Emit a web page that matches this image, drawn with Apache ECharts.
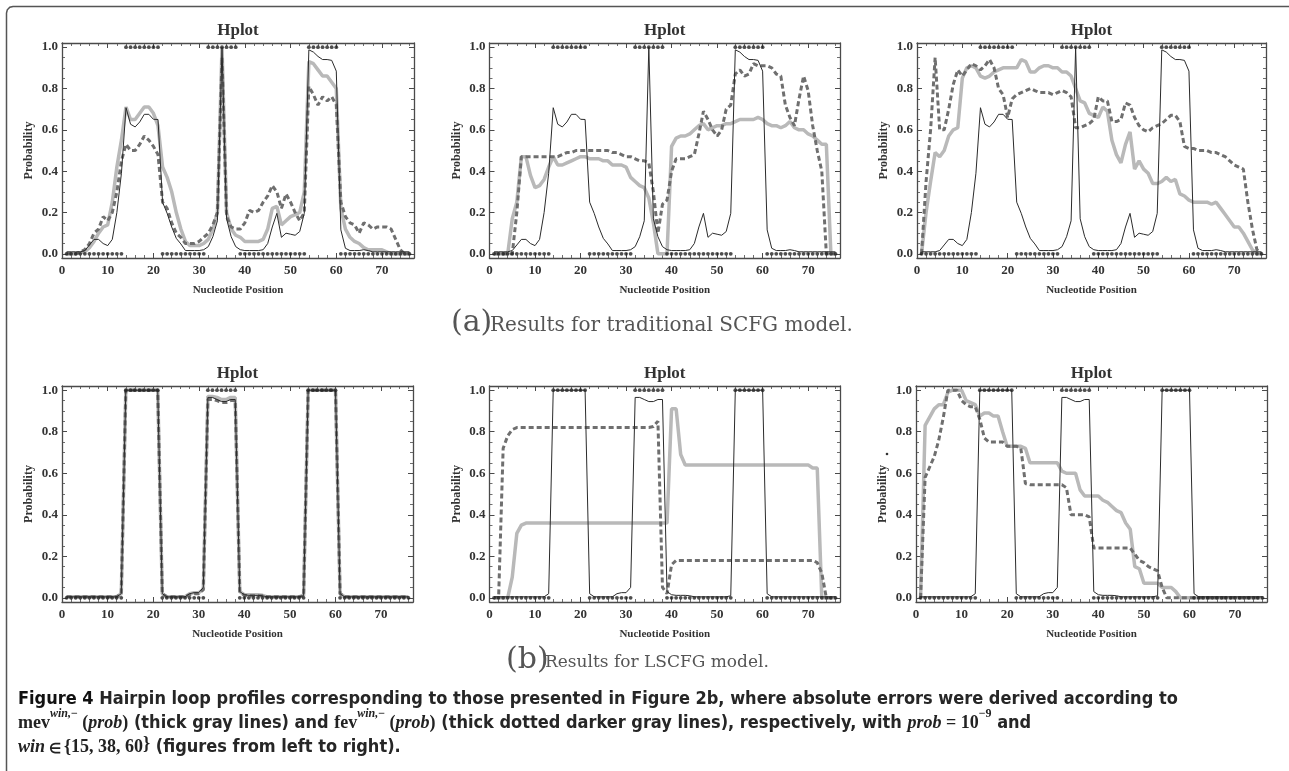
<!DOCTYPE html>
<html>
<head>
<meta charset="utf-8">
<script src="https://cdn.jsdelivr.net/npm/echarts@6/dist/echarts.min.js"></script>
<style>
html,body{margin:0;padding:0;background:#fff;}
#c{width:1289px;height:771px;}
</style>
</head>
<body>
<div id="c"></div>
<script>
// ---------------- DATA ----------------
const positions = [1,2,3,4,5,6,7,8,9,10,11,12,13,14,15,16,17,18,19,20,21,22,23,24,25,26,27,28,29,30,31,32,33,34,35,36,37,38,39,40,41,42,43,44,45,46,47,48,49,50,51,52,53,54,55,56,57,58,59,60,61,62,63,64,65,66,67,68,69,70,71,72,73,74,75,76];
// reference structure (dots at 0 / 1)
const structure = [0,0,0,0,0,0,0,0,0,0,0,0,0, 1,1,1,1,1,1,1,1, 0,0,0,0,0,0,0,0,0,0, 1,1,1,1,1,1,1, 0,0,0,0,0,0,0,0,0,0,0,0,0,0,0, 1,1,1,1,1,1,1, 0,0,0,0,0,0,0,0,0,0,0,0,0,0,0,0];

// (a) traditional SCFG: thin black profile
const scfgProfile = [0.01,0.01,0.01,0.01,0.016,0.043,0.07,0.07,0.05,0.04,
  0.07,0.2,0.39,0.707,0.627,0.614,0.638,0.675,0.675,0.651,
  0.65,0.25,0.196,0.13,0.075,0.048,0.016,0.016,0.016,0.016,
  0.02,0.035,0.083,0.16,1.0,0.17,0.083,0.035,0.02,0.016,
  0.016,0.016,0.016,0.02,0.05,0.13,0.196,0.08,0.1,0.095,
  0.09,0.108,0.196,0.987,0.976,0.955,0.94,0.94,0.936,0.884,
  0.116,0.027,0.016,0.016,0.016,0.02,0.016,0.01,0.01,0.01,
  0.01,0.01,0.01,0.01,0.01,0.01];
// win = 15
const scfgMev15 = [0,0,0,0.005,0.01,0.03,0.06,0.1,0.13,0.14,
  0.25,0.42,0.55,0.71,0.65,0.65,0.68,0.71,0.71,0.68,
  0.62,0.42,0.37,0.3,0.2,0.12,0.06,0.04,0.04,0.04,
  0.05,0.07,0.12,0.2,1.0,0.2,0.12,0.09,0.08,0.06,
  0.06,0.06,0.06,0.07,0.12,0.22,0.23,0.14,0.16,0.18,
  0.19,0.2,0.3,0.93,0.92,0.89,0.86,0.86,0.83,0.8,
  0.22,0.12,0.08,0.06,0.05,0.03,0.02,0.02,0.02,0.02,
  0.01,0,0,0,0,0];
const scfgFev15 = [0,0,0,0.01,0.02,0.05,0.1,0.12,0.18,0.16,
  0.2,0.3,0.45,0.53,0.5,0.5,0.53,0.57,0.55,0.52,
  0.48,0.25,0.22,0.15,0.1,0.08,0.05,0.05,0.05,0.06,
  0.08,0.1,0.14,0.2,0.95,0.18,0.13,0.12,0.12,0.15,
  0.21,0.2,0.21,0.25,0.28,0.33,0.3,0.22,0.29,0.25,
  0.2,0.16,0.2,0.81,0.77,0.72,0.76,0.74,0.76,0.72,
  0.25,0.18,0.15,0.14,0.1,0.15,0.14,0.12,0.13,0.13,
  0.13,0.12,0.07,0.02,0,0];
// win = 38
const scfgMev38 = [0,0,0,0,0.17,0.25,0.47,0.47,0.38,0.32,
  0.33,0.36,0.42,0.47,0.43,0.43,0.44,0.45,0.46,0.47,
  0.47,0.46,0.46,0.46,0.45,0.45,0.43,0.43,0.43,0.42,
  0.37,0.35,0.33,0.32,0.27,0.15,0,0,0,0.52,
  0.56,0.57,0.57,0.58,0.6,0.62,0.63,0.6,0.61,0.62,
  0.62,0.63,0.63,0.64,0.65,0.65,0.65,0.65,0.66,0.65,
  0.63,0.62,0.62,0.61,0.62,0.64,0.61,0.6,0.6,0.58,
  0.57,0.55,0.53,0.53,0,0];
const scfgFev38 = [0,0,0,0,0,0.2,0.47,0.47,0.47,0.47,
  0.47,0.47,0.47,0.47,0.47,0.48,0.49,0.49,0.5,0.5,
  0.5,0.5,0.5,0.5,0.5,0.5,0.49,0.49,0.48,0.47,
  0.47,0.46,0.45,0.45,0.44,0.3,0.1,0.24,0.26,0.4,
  0.46,0.46,0.46,0.47,0.48,0.58,0.69,0.65,0.6,0.57,
  0.6,0.7,0.72,0.87,0.89,0.86,0.87,0.92,0.91,0.91,
  0.91,0.9,0.87,0.86,0.72,0.66,0.62,0.75,0.86,0.79,
  0.62,0.5,0.4,0,0,0];
// win = 60
const scfgMev60 = [0,0.2,0.35,0.49,0.47,0.5,0.57,0.6,0.61,0.85,
  0.9,0.91,0.9,0.86,0.85,0.86,0.88,0.89,0.9,0.9,
  0.9,0.9,0.94,0.93,0.88,0.88,0.9,0.91,0.91,0.9,
  0.9,0.88,0.88,0.86,0.8,0.74,0.73,0.68,0.67,0.66,
  0.71,0.69,0.55,0.48,0.44,0.53,0.59,0.41,0.45,0.41,
  0.39,0.34,0.34,0.35,0.37,0.35,0.36,0.29,0.28,0.26,
  0.25,0.25,0.25,0.25,0.24,0.25,0.22,0.19,0.16,0.13,
  0.13,0.1,0.06,0.02,0,0];
const scfgFev60 = [0,0.35,0.6,0.95,0.6,0.6,0.7,0.82,0.89,0.86,
  0.89,0.92,0.91,0.89,0.91,0.94,0.9,0.8,0.77,0.66,
  0.75,0.77,0.78,0.79,0.8,0.79,0.78,0.78,0.78,0.77,
  0.78,0.79,0.78,0.76,0.61,0.61,0.62,0.63,0.65,0.76,
  0.74,0.74,0.64,0.64,0.65,0.73,0.72,0.66,0.62,0.6,
  0.59,0.61,0.62,0.63,0.65,0.67,0.67,0.64,0.52,0.51,
  0.51,0.5,0.5,0.5,0.49,0.49,0.48,0.47,0.45,0.43,
  0.42,0.41,0.25,0.12,0.02,0];

// (b) LSCFG: thin black profile
const lscfgProfile = [0.005,0.005,0.005,0.005,0.005,0.005,0.005,0.005,0.005,0.005,
  0.005,0.005,0.02,1,1,1,1,1,1,1,
  1,0.02,0.005,0.005,0.005,0.005,0.005,0.02,0.025,0.025,
  0.05,0.965,0.965,0.955,0.945,0.945,0.955,0.955,0.03,0.015,
  0.012,0.012,0.012,0.01,0.005,0.005,0.005,0.005,0.005,0.005,
  0.005,0.005,0.01,1,1,1,1,1,1,1,
  0.02,0.005,0.005,0.005,0.005,0.005,0.005,0.005,0.005,0.005,
  0.005,0.005,0.005,0.005,0.005,0.005];
// win = 15
const lscfgMev15 = [0.005,0.005,0.005,0.005,0.005,0.005,0.005,0.005,0.005,0.005,
  0.005,0.005,0.02,1,1,1,1,1,1,1,
  1,0.02,0.005,0.005,0.005,0.005,0.005,0.02,0.025,0.025,
  0.04,0.97,0.97,0.965,0.955,0.955,0.965,0.965,0.03,0.015,
  0.015,0.015,0.015,0.012,0.005,0.005,0.005,0.005,0.005,0.005,
  0.005,0.005,0.01,1,1,1,1,1,1,1,
  0.02,0.005,0.005,0.005,0.005,0.005,0.005,0.005,0.005,0.005,
  0.005,0.005,0.005,0.005,0.005,0.005];
const lscfgFev15 = [0.005,0.005,0.005,0.005,0.005,0.005,0.005,0.005,0.005,0.005,
  0.005,0.005,0.02,1,1,1,1,1,1,1,
  1,0.02,0.005,0.005,0.005,0.005,0.005,0.015,0.02,0.02,
  0.04,0.955,0.955,0.95,0.94,0.94,0.95,0.95,0.03,0.012,
  0.01,0.01,0.01,0.01,0.005,0.005,0.005,0.005,0.005,0.005,
  0.005,0.005,0.01,1,1,1,1,1,1,1,
  0.02,0.005,0.005,0.005,0.005,0.005,0.005,0.005,0.005,0.005,
  0.005,0.005,0.005,0.005,0.005,0.005];
// win = 38
const lscfgMev38 = [0,0,0,0,0.1,0.31,0.35,0.36,0.36,0.36,
  0.36,0.36,0.36,0.36,0.36,0.36,0.36,0.36,0.36,0.36,
  0.36,0.36,0.36,0.36,0.36,0.36,0.36,0.36,0.36,0.36,
  0.36,0.36,0.36,0.36,0.36,0.36,0.36,0.36,0.36,0.91,
  0.91,0.69,0.64,0.64,0.64,0.64,0.64,0.64,0.64,0.64,
  0.64,0.64,0.64,0.64,0.64,0.64,0.64,0.64,0.64,0.64,
  0.64,0.64,0.64,0.64,0.64,0.64,0.64,0.64,0.64,0.64,
  0.625,0.625,0,0,0,0];
const lscfgFev38 = [0,0,0.72,0.78,0.81,0.82,0.82,0.82,0.82,0.82,
  0.82,0.82,0.82,0.82,0.82,0.82,0.82,0.82,0.82,0.82,
  0.82,0.82,0.82,0.82,0.82,0.82,0.82,0.82,0.82,0.82,
  0.82,0.82,0.82,0.82,0.82,0.825,0.85,0.05,0.02,0.16,
  0.18,0.18,0.18,0.18,0.18,0.18,0.18,0.18,0.18,0.18,
  0.18,0.18,0.18,0.18,0.18,0.18,0.18,0.18,0.18,0.18,
  0.18,0.18,0.18,0.18,0.18,0.18,0.18,0.18,0.18,0.18,
  0.18,0.17,0.12,0,0,0];
// win = 60
const lscfgMev60 = [0,0.83,0.87,0.91,0.93,0.93,0.99,1,1,1,
  0.95,0.94,0.93,0.875,0.89,0.89,0.875,0.875,0.8,0.73,
  0.73,0.73,0.73,0.72,0.65,0.65,0.65,0.65,0.65,0.65,
  0.65,0.61,0.6,0.6,0.6,0.52,0.49,0.49,0.49,0.49,
  0.47,0.46,0.44,0.42,0.41,0.36,0.33,0.15,0.14,0.07,
  0.07,0.07,0.07,0.05,0.05,0.05,0.03,0,0,0,
  0,0,0,0,0,0,0,0,0,0,
  0,0,0,0,0,0];
const lscfgFev60 = [0,0.58,0.63,0.68,0.76,0.87,1,1,1,0.95,
  0.93,0.92,0.92,0.86,0.77,0.75,0.75,0.75,0.75,0.73,
  0.73,0.73,0.72,0.55,0.545,0.545,0.545,0.545,0.545,0.545,
  0.545,0.545,0.53,0.4,0.4,0.4,0.4,0.39,0.24,0.24,
  0.24,0.24,0.24,0.24,0.24,0.24,0.24,0.21,0.18,0.17,
  0.15,0.14,0.13,0.05,0,0,0,0,0,0,
  0,0,0,0,0,0,0,0,0,0,
  0,0,0,0,0,0];

const xTickLabels = ['0','10','20','30','40','50','60','70'];
const yTickLabels = ['0.0','0.2','0.4','0.6','0.8','1.0'];

// ---------------- LAYOUT ----------------
const panels = [
  {grid:{left:62, top:43, width:352, height:215}, profile:scfgProfile, mev:scfgMev15, fev:scfgFev15},
  {grid:{left:489.5, top:43, width:350.5, height:215}, profile:scfgProfile, mev:scfgMev38, fev:scfgFev38},
  {grid:{left:917, top:43, width:349, height:215}, profile:scfgProfile, mev:scfgMev60, fev:scfgFev60},
  {grid:{left:62, top:386, width:351, height:216}, profile:lscfgProfile, mev:lscfgMev15, fev:lscfgFev15},
  {grid:{left:489.5, top:386, width:350.5, height:216}, profile:lscfgProfile, mev:lscfgMev38, fev:lscfgFev38},
  {grid:{left:916, top:386, width:351, height:216}, profile:lscfgProfile, mev:lscfgMev60, fev:lscfgFev60}
];

const SERIF = '"Liberation Serif","Times New Roman",serif';
const frameColor = '#4a4a4a';
const pairs = arr => positions.map((p, i) => [p, arr[i]]);

const grids = [], xAxes = [], yAxes = [], series = [], graphics = [];

function xAxisDef(gi, pos, labels) {
  return {
    type:'value', gridIndex:gi, position:pos, min:0, max:77, interval:10,
    axisLine:{show:true, onZero:false, lineStyle:{color:frameColor, width:1.3}},
    axisTick:{show:true, inside:true, length:5, lineStyle:{color:frameColor, width:1}},
    minorTick:{show:true, splitNumber:5, length:3, lineStyle:{color:frameColor, width:0.8}},
    splitLine:{show:false},
    axisLabel:{show:labels, margin:6, fontFamily:SERIF, fontWeight:'bold', fontSize:13, color:'#333',
      formatter: v => { const s = String(Math.round(v)); return (Math.abs(v - Math.round(v)) < 1e-6 && xTickLabels.indexOf(s) >= 0) ? s : ''; }},
    name: labels ? 'Nucleotide Position' : '',
    nameLocation:'middle', nameGap:27,
    nameTextStyle:{fontFamily:SERIF, fontWeight:'bold', fontSize:11, color:'#333'}
  };
}
function yAxisDef(gi, pos, labels) {
  return {
    type:'value', gridIndex:gi, position:pos, min:-0.02, max:1.02, splitNumber:5,
    axisLine:{show:true, onZero:false, lineStyle:{color:frameColor, width:1.3}},
    axisTick:{show:true, inside:true, length:5, lineStyle:{color:frameColor, width:1}},
    minorTick:{show:true, splitNumber:4, length:3, lineStyle:{color:frameColor, width:0.8}},
    splitLine:{show:false},
    axisLabel:{show:labels, margin:4, fontFamily:SERIF, fontWeight:'bold', fontSize:13, color:'#333',
      formatter: v => { const s = (Math.abs(v) < 1e-9 ? 0 : v).toFixed(1); return (Math.abs(v*10 - Math.round(v*10)) < 1e-6 && yTickLabels.indexOf(s) >= 0) ? s : ''; }},
    name: labels ? 'Probability' : '',
    nameLocation:'middle', nameGap:27,
    nameTextStyle:{fontFamily:SERIF, fontWeight:'bold', fontSize:12, color:'#333'}
  };
}

panels.forEach((p, i) => {
  grids.push(Object.assign({containLabel:false}, p.grid));
  xAxes.push(xAxisDef(i, 'bottom', true));
  xAxes.push(xAxisDef(i, 'top', false));
  yAxes.push(yAxisDef(i, 'left', true));
  yAxes.push(yAxisDef(i, 'right', false));
  const xi = 2*i, yi = 2*i;
  series.push({type:'line', xAxisIndex:xi, yAxisIndex:yi, data:pairs(p.mev), symbol:'none', z:2,
    lineStyle:{color:'#b9b9b9', width:3.5}});
  series.push({type:'line', xAxisIndex:xi, yAxisIndex:yi, data:pairs(p.fev), symbol:'none', z:3,
    lineStyle:{color:'#6f6f6f', width:3, type:[5,3]}});
  series.push({type:'line', xAxisIndex:xi, yAxisIndex:yi, data:pairs(p.profile), symbol:'none', z:4,
    lineStyle:{color:'#2b2b2b', width:1}});
  series.push({type:'scatter', xAxisIndex:xi, yAxisIndex:yi, data:pairs(structure), symbol:'circle', symbolSize:3.8, z:5,
    itemStyle:{color:'#222'}});
  const cx = p.grid.left + p.grid.width/2;
  graphics.push({type:'text', style:{text:'Hplot', x:cx, y:p.grid.top - 12, textAlign:'center', textVerticalAlign:'middle',
    font:'bold 17px ' + SERIF, fill:'#333'}});
});

// border
graphics.push({type:'polyline', shape:{points:[[6.5,771],[6.5,13],[7.3,9.8],[9.8,7.3],[13,6.5],[1289,6.5]]}, style:{fill:null, stroke:'#555', lineWidth:1.5}});
// small mark near last y name
graphics.push({type:'circle', shape:{cx:887, cy:454, r:1.3}, style:{fill:'#333'}});

// sub-captions
const CM = '"DejaVu Serif",serif';
graphics.push({type:'text', style:{text:'(a)', x:451, y:323, textVerticalAlign:'middle', font:'30px ' + CM, fill:'#555'}});
graphics.push({type:'text', style:{text:'Results for traditional SCFG model.', x:490, y:326, textVerticalAlign:'middle', font:'20px ' + CM, fill:'#555'}});
graphics.push({type:'text', style:{text:'(b)', x:506, y:660, textVerticalAlign:'middle', font:'30px ' + CM, fill:'#555'}});
graphics.push({type:'text', style:{text:'Results for LSCFG model.', x:545, y:663, textVerticalAlign:'middle', font:'17px ' + CM, fill:'#555'}});

// figure caption
const CAP = '"Liberation Sans Narrow","DejaVu Sans Condensed","Noto Sans",sans-serif';
const MATHF = 'bold 18px ' + SERIF;
const capRich = {
  f:{font:'bold 18px ' + CAP, fill:'#111', lineHeight:24, verticalAlign:'bottom'},
  n:{font:'bold 18px ' + CAP, fill:'#262626', lineHeight:24, verticalAlign:'bottom'},
  m:{font:MATHF, fill:'#222', lineHeight:24, verticalAlign:'bottom'},
  e:{font:'bold 14px ' + SERIF, fill:'#222', lineHeight:24, verticalAlign:'bottom'},
  mi:{font:'italic bold 18px ' + SERIF, fill:'#222', lineHeight:24, verticalAlign:'bottom'},
  s:{font:'italic bold 12px ' + SERIF, fill:'#222', lineHeight:17, verticalAlign:'top'},
  sn:{font:'bold 12px ' + SERIF, fill:'#222', lineHeight:17, verticalAlign:'top'}
};
graphics.push({type:'text', style:{x:18, y:696, textVerticalAlign:'middle', rich:capRich, font:MATHF, fill:'#222',
  text:'{f|Figure 4}{n| Hairpin loop profiles corresponding to those presented in Figure 2b, where absolute errors were derived according to}'}});
graphics.push({type:'text', style:{x:18, y:720, textVerticalAlign:'middle', rich:capRich, font:MATHF, fill:'#222',
  text:'{m|mev}{s|win,}{sn|−}{m| (}{mi|prob}{m|)}{n| (thick gray lines) and }{m|fev}{s|win,}{sn|−}{m| (}{mi|prob}{m|)}{n| (thick dotted darker gray lines), respectively, with }{mi|prob}{m| = 10}{sn|−9}{n| and}'}});
graphics.push({type:'text', style:{x:18, y:744, textVerticalAlign:'middle', rich:capRich, font:MATHF, fill:'#222',
  text:'{mi|win}{e| ∈ }{m|{15, 38, 60}}{n| (figures from left to right).}'}});

const chart = echarts.init(document.getElementById('c'), null, {renderer:'canvas'});
chart.setOption({
  animation:false,
  backgroundColor:'#fff',
  grid:grids, xAxis:xAxes, yAxis:yAxes, series:series, graphic:graphics
});
</script>
</body>
</html>
